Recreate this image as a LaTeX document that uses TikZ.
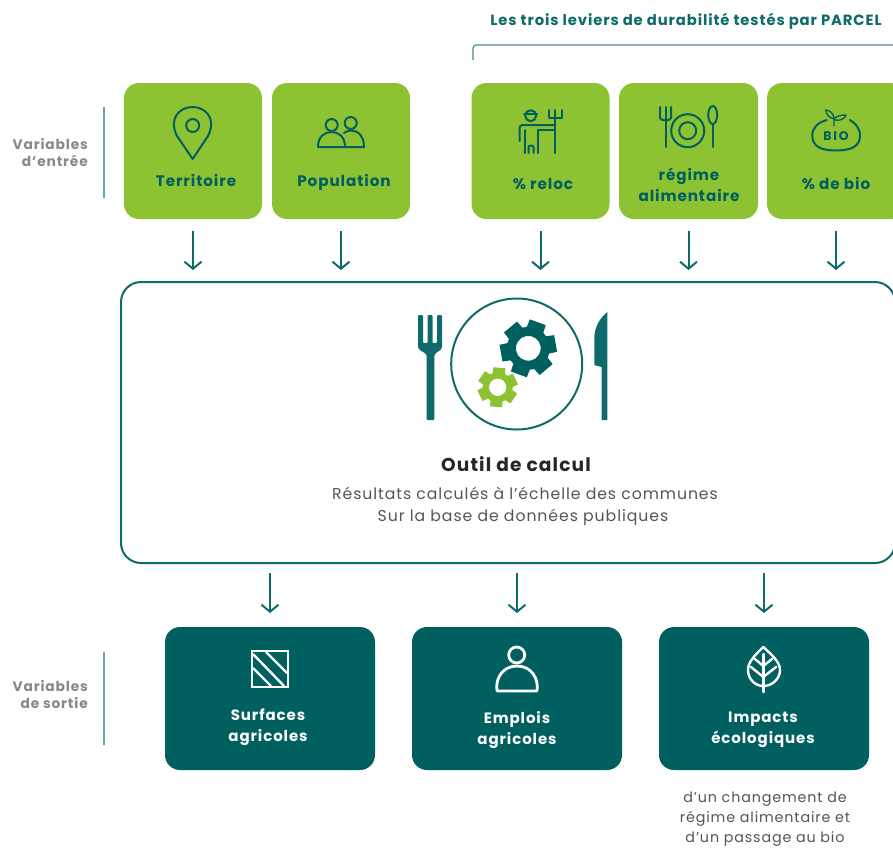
\documentclass[tikz,border=0pt]{standalone}
\usepackage{fontspec}
\setmainfont[LetterSpace=6]{Poppins}
\usetikzlibrary{arrows.meta}
\definecolor{teal}{HTML}{005F5F}
\definecolor{arrowc}{HTML}{0F6B6B}
\definecolor{lime}{HTML}{8DC232}
\definecolor{greytxt}{HTML}{8E8688}
\definecolor{bodytxt}{HTML}{5A5254}
\definecolor{sideline}{HTML}{6FA3AC}
\tikzset{
  x=1pt,y=-1pt,
  greenbox/.style={fill=lime,rounded corners=15pt,minimum width=138pt,minimum height=136pt,inner sep=0pt,outer sep=0pt},
  darkbox/.style={fill=teal,rounded corners=15pt,minimum width=210pt,minimum height=143pt,inner sep=0pt,outer sep=0pt},
  mainbox/.style={draw=arrowc,line width=2pt,rounded corners=20pt,minimum width=774pt,minimum height=281pt,inner sep=0pt,outer sep=0pt},
  arr/.style={draw=arrowc,line width=2pt,-{Straight Barb[length=7pt,width=17pt,line width=2pt]}},
  greenlabel/.style={text=teal,font=\fontsize{15.2}{21}\selectfont\bfseries,align=center,inner sep=0pt},
  darklabel/.style={text=white,font=\fontsize{15}{21}\selectfont\bfseries,align=center,inner sep=0pt},
  sidelabel/.style={text=greytxt,font=\fontsize{13.8}{17}\selectfont\bfseries,align=right,inner sep=0pt,anchor=east},
  bodylabel/.style={text=bodytxt,font=\fontsize{15.7}{23}\selectfont,align=center,inner sep=0pt},
  icong/.style={draw=teal,line width=2pt,line cap=round,line join=round},
  iconw/.style={draw=white,line width=2.4pt,line cap=round,line join=round},
}
\newcommand\gearshape[5]{% x,y,outer,inner,hole
  \fill[even odd rule,shift={(#1,#2)},rotate=#5] (-24:#4)
    \foreach \k in {0,...,5}{ -- ({60*\k-24}:#4) -- ({60*\k-17}:#3) -- ({60*\k+17}:#3) -- ({60*\k+24}:#4) } -- cycle
    (0,0) circle[radius=#4*0.58];}
\begin{document}
\begin{tikzpicture}
\useasboundingbox (0,0) rectangle (893,847);
\clip (0,0) rectangle (893,847);
\node[greenbox] (terr) at (193,151) {};
\node[greenbox] (popu) at (341,151) {};
\node[greenbox] (reloc) at (540.5,151) {};
\node[greenbox,minimum width=139pt] (regime) at (688.5,151) {};
\node[greenbox] (bio) at (836,151) {};
\node[mainbox] (main) at (508,422.5) {};
\node[darkbox] (surf) at (270,698.5) {};
\node[darkbox] (empl) at (517,698.5) {};
\node[darkbox] (impa) at (764,698.5) {};
\foreach \n in {terr,popu,reloc,regime,bio}
  \draw[arr,shorten <=12pt,shorten >=12pt] (\n.south) -- (\n.south |- main.north);
\foreach \n in {surf,empl,impa}
  \draw[arr,shorten <=10pt,shorten >=14pt] (\n.north |- main.south) -- (\n.north);
\draw[sideline!60!arrowc,line width=1.2pt,rounded corners=3pt] (473,60) -- (473,45) -- (893,45);
\draw[sideline,line width=1.2pt] (104,107) -- (104,198);
\draw[sideline,line width=1.2pt] (104,652) -- (104,745);
\node[text=arrowc,font=\fontsize{14.8}{16}\selectfont\bfseries,inner sep=0pt] (titre) at (686,21.5) {Les trois leviers de durabilité testés par PARCEL};
\node[sidelabel] (ve) at (88,153) {Variables\\d'entrée};
\node[sidelabel] (vs) at (88,695) {Variables\\de sortie};
\node[greenlabel] (lt) at (196,180.5) {Territoire};
\node[greenlabel] (lp) at (344,182) {Population};
\node[greenlabel] (lr) at (543,184) {\% reloc};
\node[greenlabel] (lg) at (689,184.5) {régime\\alimentaire};
\node[greenlabel] (lb) at (836,183.5) {\% de bio};
\node[text=black!85,font=\fontsize{18.6}{22}\selectfont\bfseries,inner sep=0pt] (ot) at (516,464) {Outil de calcul};
\node[bodylabel] (o1) at (525,493) {Résultats calculés à l'échelle des communes};
\node[bodylabel] (o2) at (523,517) {Sur la base de données publiques};
\node[darklabel] (ls) at (268,727) {Surfaces\\agricoles};
\node[darklabel] (le) at (517,730.5) {Emplois\\agricoles};
\node[darklabel] (li) at (763,730) {Impacts\\écologiques};
\node[bodylabel,font=\fontsize{14.3}{20}\selectfont] (cm) at (765,819) {d'un changement de\\régime alimentaire et\\d'un passage au bio};
% pin
\draw[icong] (192.7,159) -- (177,136) .. controls (168,118) and (180,107) .. (192.7,107) .. controls (205,107) and (217,118) .. (208,136) -- cycle;
\draw[icong] (192.7,125.5) circle[radius=6.5];
% population
\draw[icong] (331.7,125) circle[radius=6];
\draw[icong] (350.7,123) circle[radius=6];
\draw[icong] (318,147) .. controls (318,136) and (325,132) .. (331.5,132) .. controls (338,132) and (345,136) .. (345,147) -- cycle;
\draw[icong] (344,133) .. controls (347,131) and (349,130.5) .. (351,130.5) .. controls (358,130.5) and (364,136) .. (364,147) -- (345,147);
% reloc
\draw[icong] (530.7,115.7) circle[radius=5.5];
\draw[icong] (524,113.5) -- (537,113.5);
\draw[icong,rounded corners=3pt] (519.5,141) -- (519.5,125) -- (555,125);
\draw[icong] (538,130) -- (555,130);
\draw[icong] (525,130) -- (525,153);
\draw[icong] (528.5,153) -- (528.5,147) .. controls (528.5,145) and (533.5,145) .. (533.5,147) -- (533.5,153);
\draw[icong] (538,130) -- (538,153);
\draw[icong] (555,153) -- (555,110);
\draw[icong] (549,110) -- (549,118) -- (561.5,118) -- (561.5,110);
% plate
\draw[icong] (665.7,121) -- (665.7,147);
\draw[icong] (660,107) -- (660,118) .. controls (660,121) and (671,121) .. (671,118) -- (671,107);
\draw[icong] (665.7,107) -- (665.7,119);
\draw[icong] (687.7,130.7) circle[radius=16.5];
\draw[icong] (687.7,130.7) circle[radius=8.5];
\draw[icong] (712.7,115) ellipse[x radius=4.5,y radius=9];
\draw[icong] (712.7,124) -- (712.7,147);
% bio
\draw[icong] (826.7,120) .. controls (817,123) and (812.3,128) .. (812.3,135.5) .. controls (812.3,146) and (820,150.5) .. (836,150.5) .. controls (852,150.5) and (860,146) .. (860,135.5) .. controls (860,128) and (855,123) .. (850,120);
\draw[icong,line width=1.3pt] (834,126) -- (834,119) .. controls (830,118) and (826,115) .. (825.7,110) .. controls (830,110) and (834,114) .. (834,119) .. controls (836,116) and (841,115) .. (846,115) .. controls (845,119) and (840,121) .. (835,120);
\node[text=teal,font=\fontsize{12.5}{12}\selectfont\bfseries\addfontfeature{LetterSpace=14},inner sep=0pt] (bt) at (836,135.7) {BIO};
% cutlery
\fill[arrowc,rounded corners=1pt] (418,315) -- (423,315) -- (423,343) -- (427.5,343) -- (427.5,315) -- (432.5,315) -- (432.5,343) -- (437,343) -- (437,315) -- (442,315) -- (442,346) .. controls (442,351) and (434.3,352) .. (434.3,357) -- (434.3,420) -- (426.7,420) -- (426.7,357) .. controls (426.7,352) and (418,351) .. (418,346) -- cycle;
\fill[arrowc] (607.3,312) -- (607.3,420) -- (601.7,420) -- (601.7,367) -- (594.3,365) -- (594.3,337) .. controls (595,326) and (600,318) .. (607.3,312) -- cycle;
\draw[arrowc,line width=2pt] (516.7,364) circle[radius=65.5];
\begin{scope}[teal]\gearshape{528.3}{348.3}{29}{21.5}{10}\end{scope}
\begin{scope}[lime]\gearshape{497.7}{387.3}{20.5}{15}{25}\end{scope}
% field
\draw[iconw,line cap=butt,line join=miter] (252,651) rectangle (288,687);
\draw[iconw,line cap=butt] (253,654) -- (284,686);
\draw[iconw,line cap=butt] (266,652) -- (287,673);
\draw[iconw,line cap=butt] (253,668) -- (271,686);
% person
\draw[iconw,line width=2.8pt] (516.7,655) circle[radius=8];
\draw[iconw,line width=2.8pt] (497,691) .. controls (495,678) and (503,666) .. (517,666) .. controls (531,666) and (539,678) .. (537,691) -- cycle;
% leaf
\draw[iconw] (763.3,647) .. controls (755,655) and (748,662) .. (748,670) .. controls (748,679) and (755,686) .. (763.3,686) .. controls (772,686) and (780,679) .. (780,670) .. controls (780,662) and (772,655) .. (763.3,647) -- cycle;
\draw[iconw] (763.3,654) -- (763.3,692);
\draw[iconw] (763.3,666) -- (755,659);
\draw[iconw] (763.3,666) -- (772,659);
\draw[iconw] (763.3,677) -- (751,667);
\draw[iconw] (763.3,677) -- (776,667);
\end{tikzpicture}
\end{document}
